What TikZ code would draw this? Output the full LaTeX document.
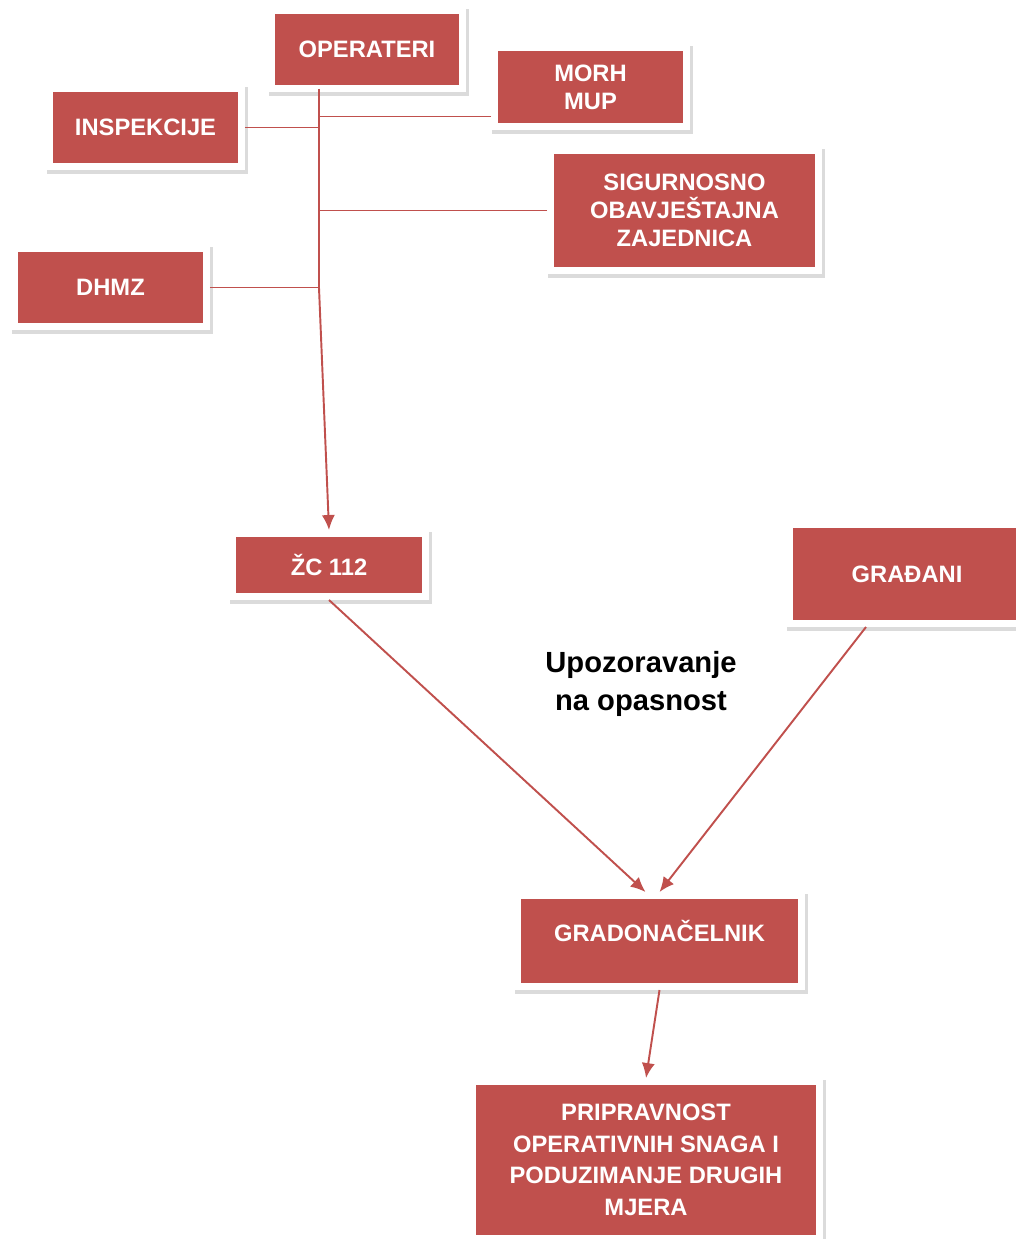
\documentclass[tikz,border=0pt]{standalone}
\usepackage{fontspec}
\setmainfont{Liberation Sans}
\usetikzlibrary{arrows.meta,shadows,positioning,calc}
\definecolor{boxred}{HTML}{C0504D}
\tikzset{
    box/.style={draw=white, line width=4pt, fill=boxred, text=white, align=center,
        inner sep=0pt, font=\fontsize{13.5pt}{16pt}\selectfont\bfseries,
        drop shadow={shadow xshift=1pt, shadow yshift=-1.6pt, opacity=.35, fill=black!40,
            draw=black!40, line width=5pt}},
    link/.style={draw=boxred, line width=1.1pt}
}
\begin{document}
\begin{tikzpicture}[x=0.02cm,y=-0.02cm,>={Latex[length=8.5pt,width=7.5pt]}]
                \useasboundingbox (0,0) rectangle (1016,1239);
                % sources
                \node[box, minimum width=3.82cm, minimum height=1.56cm] at (367,49.5) (oper) {OPERATERI};
                \node[box, minimum width=3.84cm, minimum height=1.58cm] at (590.5,87) (morh) {MORH\\MUP};
                \node[box, minimum width=3.84cm, minimum height=1.56cm] at (145.5,127.5) (insp) {INSPEKCIJE};
                \node[box, minimum width=5.36cm, minimum height=2.4cm] at (684.5,210.5) (soa) {SIGURNOSNO\\OBAVJEŠTAJNA\\ZAJEDNICA};
                \node[box, minimum width=3.84cm, minimum height=1.56cm] at (110.5,287.5) (dhmz) {DHMZ};
                % trunk
                \coordinate (trunk) at (319,89);
                \coordinate (junc) at (319,288);
                \path[link] (trunk) -- (junc);
                \path[link] ([yshift=0.27cm]morh.south west) -- ([yshift=0.27cm]morh.south west -| trunk);
                \path[link] (insp.east) -- (insp.east -| trunk);
                \path[link] (soa.west) -- (soa.west -| trunk);
                \path[link] (dhmz.east) -- (dhmz.east -| trunk);
                % centre and citizens
                \node[box, minimum width=3.86cm, minimum height=1.26cm] at (329,565) (zc) {ŽC 112};
                \node[box, minimum width=4.7cm, minimum height=1.98cm] at (907,574) (citizens) {GRAĐANI};
                \node[font=\fontsize{16.6pt}{21.5pt}\selectfont\bfseries, align=center] at (641,684) (warn) {Upozoravanje\\na opasnost};
                \node[box, minimum width=5.68cm, minimum height=1.82cm, text height=10pt, text depth=9pt] at (659.5,941) (mayor) {GRADONAČELNIK};
                \node[box, minimum width=6.94cm, minimum height=3.14cm, font=\fontsize{13.5pt}{18pt}\selectfont\bfseries] at (646,1160) (ready) {PRIPRAVNOST\\OPERATIVNIH SNAGA I\\PODUZIMANJE DRUGIH\\MJERA};
                \path[link,->] (junc) -- (zc.north);
                \path[link,->] (zc.south) -- ([xshift=-0.28cm]mayor.north);
                \path[link,->] ([xshift=-0.82cm]citizens.south) -- (mayor.north);
                \path[link,->] (mayor.south) -- (ready.north);
            \end{tikzpicture}
\end{document}
